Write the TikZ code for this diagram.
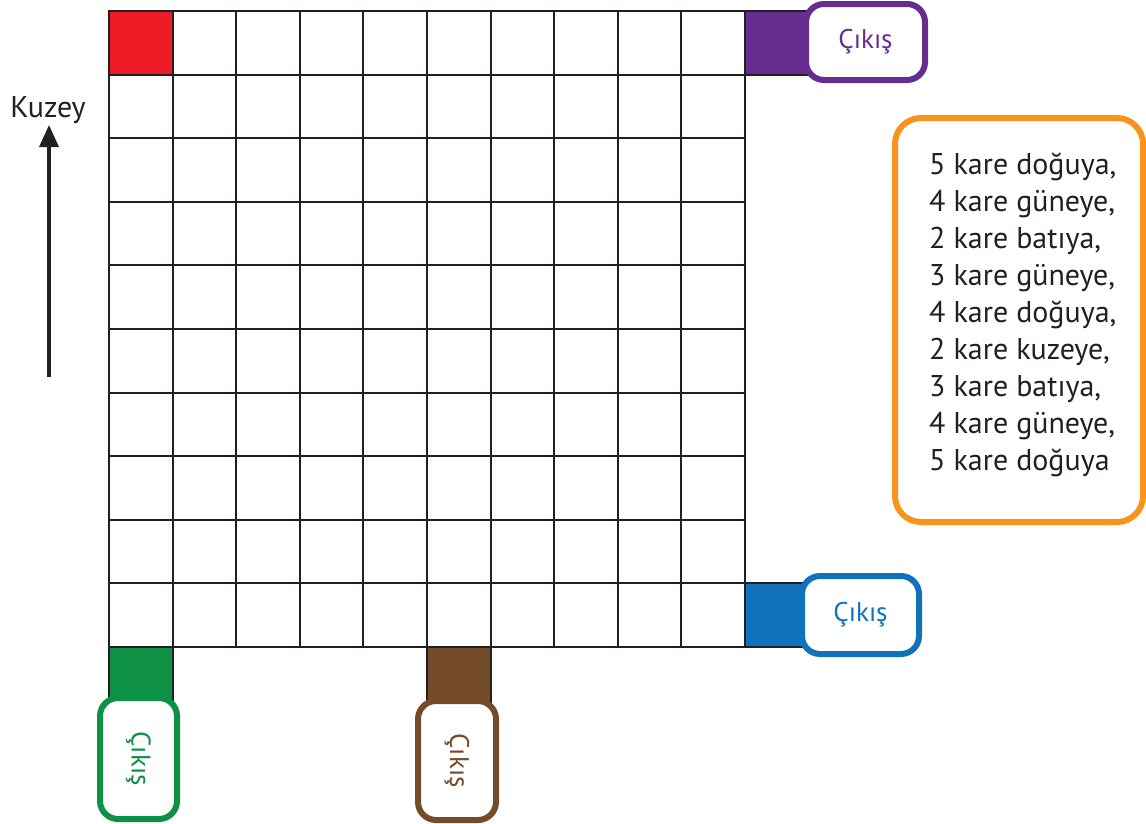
\documentclass[tikz,border=0pt]{standalone}
\usepackage{fontspec}
\setmainfont{PT Sans}
\usetikzlibrary{arrows.meta}
\definecolor{gridc}{HTML}{231F20}
\definecolor{redc}{HTML}{ED1C24}
\definecolor{purplec}{HTML}{662D91}
\definecolor{bluec}{HTML}{0F72BA}
\definecolor{greenc}{HTML}{0E9144}
\definecolor{brownc}{HTML}{754C29}
\definecolor{orangec}{HTML}{F7941D}
\begin{document}
\begin{tikzpicture}[x=1pt,y=-1pt,
  gridline/.style={draw=gridc, line width=2pt},
  exitsq/.style={draw=gridc, line width=2pt, fill=#1},
  exitbox/.style={draw=#1, line width=6pt, fill=white, rounded corners=18pt,
    text=#1, font=\fontsize{27}{30}\selectfont, inner sep=0pt},
  listbox/.style={draw=orangec, line width=6pt, fill=white, rounded corners=26pt, inner sep=0pt},
  listtext/.style={font=\fontsize{30}{37.1}\selectfont, align=left, inner sep=0pt, text=gridc},
  northarrow/.style={draw=gridc, line width=3.5pt, -{Triangle[length=22pt,width=19pt]}}]
\useasboundingbox (0,0) rectangle (1146,823);
% coloured squares
\fill[redc] (109,11) rectangle (172.6,74.6);
\draw[exitsq=purplec] (745,11) rectangle (812,74.6);
\draw[exitsq=bluec] (745,583.4) rectangle (805,647);
\draw[exitsq=greenc] (109,647) rectangle (172.6,702);
\draw[exitsq=brownc] (427,647) rectangle (490.6,705);
% grid
\foreach \i in {0,...,10}{
  \draw[gridline] (109+63.6*\i,11) -- (109+63.6*\i,647);
  \draw[gridline] (108,11+63.6*\i) -- (746,11+63.6*\i);
}
% exits
\node[exitbox=purplec, minimum width=119pt, minimum height=76pt] (exitN) at (865.5,42) {Çıkış};
\node[exitbox=bluec, minimum width=117pt, minimum height=78pt] (exitE) at (860.5,615) {Çıkış};
\node[exitbox=greenc, rotate=-90, minimum width=121pt, minimum height=77pt] (exitSW) at (138.5,758.5) {Çıkış};
\node[exitbox=brownc, rotate=-90, minimum width=119pt, minimum height=78pt] (exitS) at (457,760.5) {Çıkış};
% instructions
\node[listbox, minimum width=248pt, minimum height=404pt] (steps) at (1019,320) {};
\node[listtext, anchor=north west] (stepstext) at (929,152.2) {5 kare doğuya,\\4 kare güneye,\\2 kare batıya,\\3 kare güneye,\\4 kare doğuya,\\2 kare kuzeye,\\3 kare batıya,\\4 kare güneye,\\5 kare doğuya};
% north arrow
\node[font=\fontsize{30}{33}\selectfont, inner sep=1pt, anchor=south, text=gridc] (kuzey) at (48,125) {Kuzey};
\coordinate (arrowbase) at (49,377);
\draw[northarrow] (arrowbase) -- (49,125);
\end{tikzpicture}
\end{document}
